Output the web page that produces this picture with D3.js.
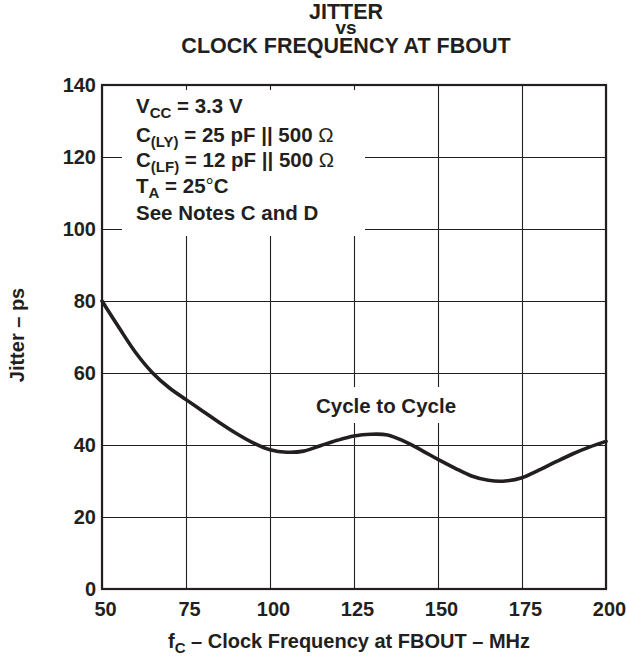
<!DOCTYPE html>
<html>
<head>
<meta charset="utf-8">
<script src="https://cdn.jsdelivr.net/npm/d3@7"></script>
<style>
  html, body { margin: 0; padding: 0; background: #fff; }
  svg { display: block; font-family: "Liberation Sans", Arial, Helvetica, sans-serif; }
</style>
</head>
<body>
<svg id="chart" width="626" height="660"></svg>
<script>
// ---- data ----
const freqMHz = [50, 55, 60, 65, 70, 75, 80, 85, 90, 95, 100, 105, 110, 115, 120, 125, 130, 135, 140, 145, 150, 155, 160, 165, 170, 175, 180, 185, 190, 195, 200];
const jitterPs = [80, 72.7, 65.7, 60.1, 55.9, 52.6, 49.4, 46.2, 43.2, 40.6, 38.7, 38.0, 38.3, 39.8, 41.3, 42.5, 43.0, 42.8, 41.0, 38.6, 36.0, 33.6, 31.4, 30.2, 30.0, 30.9, 33.0, 35.3, 37.5, 39.4, 41.0];
const xTicks = [50, 75, 100, 125, 150, 175, 200];
const yTicks = [0, 20, 40, 60, 80, 100, 120, 140];
const titleLines = ["JITTER", "vs", "CLOCK FREQUENCY AT FBOUT"];
const seriesLabel = "Cycle to Cycle";

const ink = "#231f20";
const svg = d3.select("#chart");
const L = 102, R = 606, T = 85, B = 589;
const x = d3.scaleLinear().domain([50, 200]).range([L, R]);
const y = d3.scaleLinear().domain([0, 140]).range([B, T]);

// title
svg.append("g").selectAll("text").data(titleLines).join("text")
  .attr("x", 346).attr("y", (d, i) => [19, 34, 53][i])
  .attr("text-anchor", "middle").attr("font-weight", "bold")
  .attr("font-size", (d, i) => i === 1 ? 19 : 21.5).attr("fill", ink)
  .text(d => d);

// gridlines via axes
const gx = svg.append("g").attr("transform", `translate(0,${B})`)
  .call(d3.axisBottom(x).tickValues(xTicks).tickSize(-(B - T)).tickPadding(13));
gx.select(".domain").remove();
gx.selectAll("line").attr("stroke", ink).attr("stroke-width", 1.1);
gx.selectAll("text").attr("font-size", 20).attr("font-weight", "bold").attr("fill", ink)
  .attr("font-family", "Liberation Sans, Arial, sans-serif").attr("dx", 3);

const gy = svg.append("g").attr("transform", `translate(${L},0)`)
  .call(d3.axisLeft(y).tickValues(yTicks).tickSize(-(R - L)).tickPadding(6));
gy.select(".domain").remove();
gy.selectAll("line").attr("stroke", ink).attr("stroke-width", 1.1);
gy.selectAll("text").attr("font-size", 20).attr("font-weight", "bold").attr("fill", ink)
  .attr("font-family", "Liberation Sans, Arial, sans-serif");

// white boxes behind annotations
svg.append("rect").attr("x", 122).attr("y", 90).attr("width", 243).attr("height", 146).attr("fill", "#fff");
svg.append("rect").attr("x", 314).attr("y", 387).attr("width", 146).attr("height", 36).attr("fill", "#fff");

// curve
const line = d3.line().x((d, i) => x(freqMHz[i])).y(d => y(d)).curve(d3.curveCatmullRom.alpha(0.5));
svg.append("path").datum(jitterPs).attr("d", line)
  .attr("fill", "none").attr("stroke", ink).attr("stroke-width", 3.6)
  .attr("stroke-linejoin", "round").attr("stroke-linecap", "round");

// frame
svg.append("rect").attr("x", L).attr("y", T).attr("width", R - L).attr("height", B - T)
  .attr("fill", "none").attr("stroke", ink).attr("stroke-width", 2.2);

// series label
svg.append("text").attr("x", 386).attr("y", 413).attr("text-anchor", "middle")
  .attr("font-size", 20.5).attr("font-weight", "bold").attr("fill", ink).text(seriesLabel);

// conditions block
const cond = svg.append("g").attr("font-size", 20.5).attr("font-weight", "bold").attr("fill", ink);
function condLine(yy, parts) {
  const t = cond.append("text").attr("x", 136).attr("y", yy);
  parts.forEach(p => {
    const ts = t.append("tspan").text(p.t);
    if (p.sub) { ts.attr("font-size", 15).attr("dy", 5); }
    if (p.up) { ts.attr("dy", -5); }
    if (p.normal) { ts.attr("font-weight", "normal"); }
  });
}
condLine(113, [{t: "V"}, {t: "CC", sub: true}, {t: " = 3.3 V", up: true}]);
condLine(142, [{t: "C"}, {t: "(LY)", sub: true}, {t: " = 25 pF || 500 ", up: true}, {t: "Ω", normal: true}]);
condLine(167, [{t: "C"}, {t: "(LF)", sub: true}, {t: " = 12 pF || 500 ", up: true}, {t: "Ω", normal: true}]);
condLine(193, [{t: "T"}, {t: "A", sub: true}, {t: " = 25", up: true}, {t: "°", normal: true}, {t: "C"}]);
condLine(220, [{t: "See Notes C and D"}]);

// x axis title
const xt = svg.append("text").attr("x", 349).attr("y", 648).attr("text-anchor", "middle")
  .attr("font-size", 20).attr("font-weight", "bold").attr("fill", ink);
xt.append("tspan").text("f");
xt.append("tspan").attr("font-size", 15).attr("dy", 5).text("C");
xt.append("tspan").attr("dy", -5).text(" – Clock Frequency at FBOUT – MHz");

// y axis title
svg.append("text").attr("transform", "translate(24,335) rotate(-90)").attr("text-anchor", "middle")
  .attr("font-size", 20).attr("font-weight", "bold").attr("fill", ink).text("Jitter – ps");
</script>
</body>
</html>
